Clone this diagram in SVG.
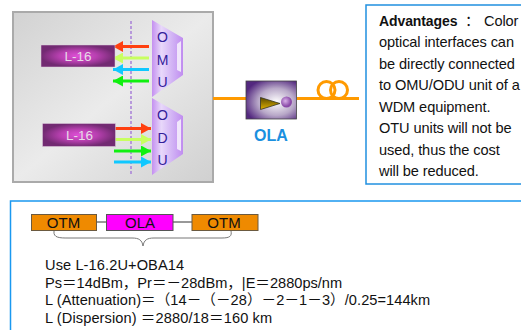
<svg xmlns="http://www.w3.org/2000/svg" width="521" height="330" viewBox="0 0 521 330">
<style>
text{font-family:"Liberation Sans","Noto Sans CJK SC",Arial,sans-serif;fill:#111}
.u{font-size:14px;fill:#32209a;text-anchor:middle}
.l{font-size:13.500px;fill:#e6dce6;text-anchor:middle}
.b{font-size:14.600px;letter-spacing:-.1px}
.c{font-size:15px;text-anchor:middle}
.m{stroke-width:3;fill:none}
.o{fill:#ef8a00;stroke:#6b5a40;stroke-width:1}
.f{stroke:#ff9a00;stroke-width:3;fill:none}
</style>
<defs>
<linearGradient id="p" x1="0" y1="0" x2="1" y2="1"><stop offset="0" stop-color="#d2d2d2"/><stop offset=".5" stop-color="#ebebeb"/><stop offset="1" stop-color="#d0d0d0"/></linearGradient>
<radialGradient id="r"><stop offset="0" stop-color="#e050d8"/><stop offset=".5" stop-color="#b840b0"/><stop offset="1" stop-color="#722a72"/></radialGradient>
<linearGradient id="t" x1="0" y1="0" x2="1" y2="0"><stop offset="0" stop-color="#c490f0"/><stop offset=".3" stop-color="#e8d8fa"/><stop offset=".7" stop-color="#cfaef4"/><stop offset="1" stop-color="#c08cf0"/></linearGradient>
<radialGradient id="a" cx=".6" cy=".55" r=".65"><stop offset="0" stop-color="#fff"/><stop offset=".55" stop-color="#b8a8c8"/><stop offset="1" stop-color="#53287f"/></radialGradient>
<linearGradient id="g" x1="0" y1="0" x2="0" y2="1"><stop offset="0" stop-color="#5a4a00"/><stop offset="1" stop-color="#e0b000"/></linearGradient>
<radialGradient id="s" cx=".4" cy=".4"><stop offset="0" stop-color="#d8b0e8"/><stop offset="1" stop-color="#8a4aa8"/></radialGradient>
<marker id="h1" markerUnits="userSpaceOnUse" markerWidth="11" markerHeight="11" refX="10" refY="5.500" orient="auto"><path d="M0 0L10 5.500L0 11Z" fill="#ff4010"/></marker>
<marker id="h2" markerUnits="userSpaceOnUse" markerWidth="11" markerHeight="11" refX="10" refY="5.500" orient="auto"><path d="M0 0L10 5.500L0 11Z" fill="#c8ff60"/></marker>
<marker id="h3" markerUnits="userSpaceOnUse" markerWidth="11" markerHeight="11" refX="10" refY="5.500" orient="auto"><path d="M0 0L10 5.500L0 11Z" fill="#10c8ff"/></marker>
<marker id="h4" markerUnits="userSpaceOnUse" markerWidth="11" markerHeight="11" refX="10" refY="5.500" orient="auto"><path d="M0 0L10 5.500L0 11Z" fill="#10f010"/></marker>
</defs>
<rect id="panel" x="13" y="12" width="200" height="170" fill="url(#p)" stroke="#aaa" stroke-width="2"/>
<rect id="calc-frame" x="10.500" y="201" width="520" height="140" fill="#fff" stroke="#1a98f0" stroke-width="1.500"/>
<g id="connectors">
<path class="f" d="M213 98.500H246M297 98.500H359"/>
<circle cx="326.500" cy="90" r="8.500" class="f"/><circle cx="339" cy="90" r="8.500" class="f"/>
<path d="M131 21V176" stroke="#a880d8" stroke-width="1.500" stroke-dasharray="3 2" fill="none"/>
<path d="M96.500 222H106M173 222H192" stroke="#333" stroke-width="1"/>
<path d="M54 231C53 238 60 238 68 238H132C139 238 142 240 143 246C144 240 147 238 154 238H222C230 238 232 236 231 231" fill="none" stroke="#777" stroke-width="1"/>
<path class="m" stroke="#ff4010" marker-end="url(#h1)" d="M149 46.500H113"/>
<path class="m" stroke="#c8ff60" marker-end="url(#h2)" d="M149 58H113"/>
<path class="m" stroke="#10c8ff" marker-end="url(#h3)" d="M149 69.500H113"/>
<path class="m" stroke="#10f010" marker-end="url(#h4)" d="M149 81H113"/>
<path class="m" stroke="#ff4010" marker-end="url(#h1)" d="M115 128.500H151"/>
<path class="m" stroke="#c8ff60" marker-end="url(#h2)" d="M115 139.500H151"/>
<path class="m" stroke="#10f010" marker-end="url(#h4)" d="M114 151H151"/>
<path class="m" stroke="#10c8ff" marker-end="url(#h3)" d="M114 162H151"/>
</g>
<g id="l16-top"><rect x="41" y="45" width="74" height="22" fill="url(#r)" stroke="#e0d0e0" stroke-width=".5"/><text class="l" x="78" y="61">L-16</text></g>
<g id="l16-bottom"><rect x="42.500" y="123.500" width="73" height="23" fill="url(#r)" stroke="#e0d0e0" stroke-width=".5"/><text class="l" x="79.500" y="140">L-16</text></g>
<g id="omu"><path d="M152 20L183 38V75L152 97Z" fill="url(#t)"/><path d="M177 44L181 41V72L177 70Z" fill="#f0e6fb"/><text class="u" x="162.500" y="42">O</text><text class="u" x="162.500" y="65">M</text><text class="u" x="162.500" y="87">U</text></g>
<g id="odu"><path d="M152 98L183 116V154L152 175Z" fill="url(#t)"/><path d="M177 122L181 119V151L177 149Z" fill="#f0e6fb"/><text class="u" x="162.500" y="120">O</text><text class="u" x="162.500" y="143">D</text><text class="u" x="162.500" y="165">U</text></g>
<g id="ola"><rect x="246" y="81" width="50.500" height="38" fill="url(#a)" stroke="#444" stroke-width=".8"/><path d="M260.500 97.500L280 103.500L260.500 109.500Z" fill="url(#g)" stroke="#332" stroke-width=".8"/><circle cx="286.500" cy="102" r="5.500" fill="url(#s)"/><text x="271" y="141" text-anchor="middle" font-size="16" font-weight="700" style="fill:#1a90e0">OLA</text></g>
<g id="advantages"><rect x="366" y="5" width="160" height="179" fill="#fff" stroke="#2090e0" stroke-width="1.500"/>
<text class="b" x="379" y="26"><tspan font-weight="700" font-size="14">Advantages</tspan><tspan x="465">：</tspan><tspan x="484">Color</tspan></text>
<text class="b" x="379" y="47">optical interfaces can</text>
<text class="b" x="379" y="69">be directly connected</text>
<text class="b" x="379" y="90">to OMU/ODU unit of a</text>
<text class="b" x="379" y="112">WDM equipment.</text>
<text class="b" x="379" y="133">OTU units will not be</text>
<text class="b" x="379" y="155">used, thus the cost</text>
<text class="b" x="379" y="176">will be reduced.</text></g>
<g id="otm-left"><rect class="o" x="31.500" y="214.500" width="65" height="16"/><text class="c" x="63.500" y="228">OTM</text></g>
<g id="ola-small"><rect x="106.500" y="214.500" width="66.500" height="16" fill="#ff00ff" stroke="#555"/><text class="c" x="140" y="228">OLA</text></g>
<g id="otm-right"><rect class="o" x="192" y="214.500" width="66" height="16"/><text class="c" x="224" y="228">OTM</text></g>
<g id="calc">
<text class="b" x="45" y="270" textLength="139">Use L-16.2U+OBA14</text>
<text class="b" x="45" y="288" textLength="297">Ps＝14dBm，Pr＝－28dBm，|E＝2880ps/nm</text>
<text class="b" x="45" y="305" textLength="385">L (Attenuation)＝（14－（－28）－2－1－3）/0.25=144km</text>
<text class="b" x="45" y="323" textLength="227">L (Dispersion) ＝2880/18＝160 km</text></g>
</svg>
